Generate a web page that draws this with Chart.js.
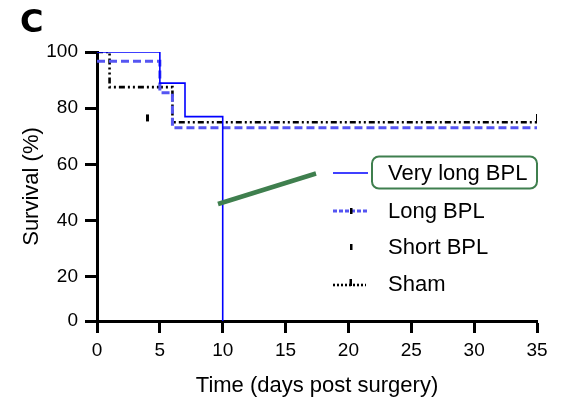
<!DOCTYPE html>
<html>
<head>
<meta charset="utf-8">
<script src="https://cdn.jsdelivr.net/npm/chart.js@4/dist/chart.umd.min.js"></script>
<style>
  html, body { margin: 0; padding: 0; background: #fff; }
  #wrap { width: 570px; height: 399px; }
</style>
</head>
<body>
<div id="wrap"><canvas id="c" width="570" height="399"></canvas></div>
<script>
// Kaplan-Meier survival steps (day, % surviving)
const veryLongDays = [0, 5, 7, 10];
const veryLongSurv = [100, 88.9, 77, 0];
const longDays = [0, 5, 6, 35];
const longSurv = [96.7, 85.5, 73, 73];
const shortDays = [4];
const shortSurv = [76.7];
const shamDays = [0, 1, 6, 35];
const shamSurv = [100, 87.5, 75, 75];
const shamCensored = [false, false, false, true];

const seriesNames = ['Very long BPL', 'Long BPL', 'Short BPL', 'Sham'];
const xTicks = [0, 5, 10, 15, 20, 25, 30, 35];
const yTicks = [0, 20, 40, 60, 80, 100];

const FONT = '"Liberation Sans", Arial, sans-serif';
const GREEN = '#3f7f4e';

// Y axis with a compressed band between 0 and 20
const BREAK = 20, SQUEEZE = 0.79;
const squeeze = v => v >= BREAK ? v : BREAK - (BREAK - v) * SQUEEZE;
const unsqueeze = v => v >= BREAK ? v : BREAK - (BREAK - v) / SQUEEZE;

class CompressedLinearScale extends Chart.LinearScale {
  getPixelForValue(value) { return super.getPixelForValue(squeeze(value)); }
  getValueForPixel(pixel) { return unsqueeze(super.getValueForPixel(pixel)); }
}
CompressedLinearScale.id = 'compressedLinear';
CompressedLinearScale.defaults = Chart.LinearScale.defaults;
Chart.register(CompressedLinearScale);

// censor mark: short vertical tick rising from the line
function makeTick(h, up) {
  const c = document.createElement('canvas');
  c.width = 3; c.height = h * 2;
  const g = c.getContext('2d');
  g.fillStyle = '#000';
  if (up) g.fillRect(0, 0, 3, h + 1); else g.fillRect(0, h - 3, 3, 7);
  return c;
}
const tickUp = makeTick(8, true);
const tickMid = makeTick(8, false);

const pts = (xs, ys) => xs.map((x, i) => ({ x, y: ys[i] }));

const datasets = [
  {
    label: seriesNames[0], data: pts(veryLongDays, veryLongSurv),
    borderColor: '#0000ff', borderWidth: 1.6, stepped: 'before', pointRadius: 0, fill: false
  },
  {
    label: seriesNames[1], data: pts(longDays, longSurv),
    borderColor: '#5555f2', borderWidth: 3, borderDash: [8, 4], stepped: 'before', pointRadius: 0, fill: false
  },
  {
    label: seriesNames[2], data: pts(shortDays, shortSurv),
    showLine: false, pointStyle: tickMid, pointRadius: 4, borderColor: '#000'
  },
  {
    label: seriesNames[3], data: pts(shamDays, shamSurv),
    borderColor: '#000', borderWidth: 2.6, borderDash: [6, 3, 2, 3, 2, 3], stepped: 'before', fill: false,
    pointStyle: tickUp, pointRadius: shamCensored.map(c => c ? 4 : 0)
  }
];

// legend, callout box and pointer, panel letter
const decorations = {
  id: 'decorations',
  afterDraw(chart) {
    const ctx = chart.ctx;
    ctx.save();
    // panel letter
    ctx.fillStyle = '#000';
    ctx.font = 'bold 32px "DejaVu Sans", sans-serif';
    ctx.textBaseline = 'alphabetic';
    ctx.fillText('C', 20, 32);

    // pointer line
    ctx.strokeStyle = GREEN;
    ctx.lineWidth = 4.5;
    ctx.lineCap = 'butt';
    ctx.beginPath();
    ctx.moveTo(218, 204);
    ctx.lineTo(316, 173.5);
    ctx.stroke();

    // legend
    const x0 = 333, x1 = 368, tx = 388;
    const rows = [173, 211, 247, 284];
    ctx.font = '22px ' + FONT;
    ctx.textBaseline = 'middle';
    ctx.fillStyle = '#000';
    rows.forEach((y, i) => ctx.fillText(seriesNames[i], tx, y + 1));

    ctx.setLineDash([]);
    ctx.strokeStyle = '#0000ff'; ctx.lineWidth = 1.6;
    ctx.beginPath(); ctx.moveTo(x0, rows[0]); ctx.lineTo(x1, rows[0]); ctx.stroke();

    ctx.strokeStyle = '#5555f2'; ctx.lineWidth = 3; ctx.setLineDash([4, 2]);
    ctx.beginPath(); ctx.moveTo(x0, rows[1]); ctx.lineTo(x1, rows[1]); ctx.stroke();
    ctx.setLineDash([]);
    ctx.fillStyle = '#000';
    ctx.fillRect(350, rows[1] - 3, 2.5, 6);

    ctx.fillRect(350, rows[2] - 3, 2.5, 6);

    ctx.strokeStyle = '#000'; ctx.lineWidth = 2.6; ctx.setLineDash([2, 2]);
    ctx.beginPath(); ctx.moveTo(x0, rows[3] + 1); ctx.lineTo(366, rows[3] + 1); ctx.stroke();
    ctx.setLineDash([]);
    ctx.fillRect(349.5, rows[3] - 5, 2.5, 7);

    // callout box around first legend entry
    ctx.strokeStyle = GREEN; ctx.lineWidth = 2;
    ctx.beginPath();
    ctx.roundRect(372, 156.5, 165, 32, 7);
    ctx.stroke();
    ctx.restore();
  }
};

new Chart(document.getElementById('c'), {
  type: 'line',
  data: { datasets },
  options: {
    responsive: false,
    animation: false,
    devicePixelRatio: 1,
    layout: { padding: { left: 0, right: 33, top: 52, bottom: 0 } },
    plugins: { legend: { display: false }, tooltip: { enabled: false } },
    scales: {
      x: {
        type: 'linear', min: 0, max: 35,
        afterFit: s => { s.height = 78; },
        afterBuildTicks: s => { s.ticks = xTicks.map(v => ({ value: v })); },
        border: { display: true, color: '#000', width: 3, dash: [8, 2] },
        grid: { drawOnChartArea: false, drawTicks: true, tickLength: 12, tickWidth: 3, tickColor: '#000' },
        ticks: { color: '#000', font: { family: FONT, size: 19 }, padding: 6, maxRotation: 0 },
        title: { display: true, text: 'Time (days post surgery)', color: '#000', font: { family: FONT, size: 22 }, padding: { top: 2, bottom: 0 } }
      },
      y: {
        type: 'compressedLinear', min: squeeze(0), max: 100, bounds: 'data',
        afterFit: s => { s.width = 97; },
        afterBuildTicks: s => { s.ticks = yTicks.map(v => ({ value: v })); },
        border: { display: true, color: '#000', width: 3 },
        grid: { drawOnChartArea: false, drawTicks: true, tickLength: 12, tickWidth: 3, tickColor: '#000' },
        ticks: { color: '#000', font: { family: FONT, size: 19 }, padding: 7 },
        title: { display: true, text: 'Survival (%)', color: '#000', font: { family: FONT, size: 22 }, padding: { top: 19, bottom: 0 } }
      }
    }
  },
  plugins: [decorations]
});
</script>
</body>
</html>
